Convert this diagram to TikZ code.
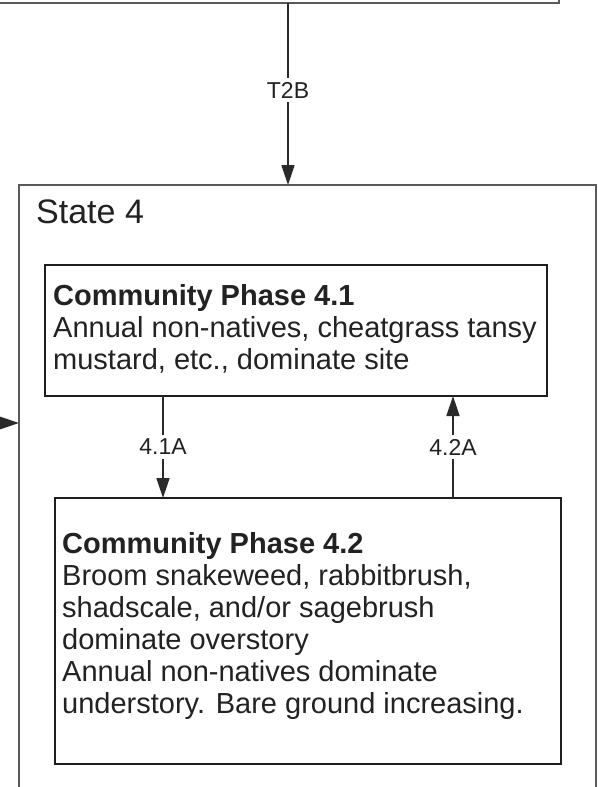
\documentclass[tikz,border=0pt]{standalone}
\usepackage{fontspec}
\setmainfont{Liberation Sans}
\usetikzlibrary{arrows.meta}
\definecolor{framegray}{HTML}{5A5A5A}
\definecolor{boxline}{HTML}{1E1E1E}
\definecolor{conncol}{HTML}{2A2A2A}
\definecolor{txtcol}{HTML}{222222}
\begin{document}
\begin{tikzpicture}[x=1pt,y=-1pt,
  outerbox/.style={draw=framegray,line width=2pt,outer sep=0pt,inner sep=0pt},
  phasebox/.style={draw=boxline,line width=2pt,outer sep=0pt,inner sep=0pt},
  phasetext/.style={anchor=base west,inner sep=0pt,align=left,text=txtcol,
    font=\fontsize{29}{32}\selectfont},
  conn/.style={draw=conncol,line width=1.5pt,-{Triangle[length=20pt,width=13pt]}},
  tlabel/.style={fill=white,text=txtcol,inner xsep=2pt,inner ysep=4pt,font=\fontsize{23}{25}\selectfont}]
\useasboundingbox (0,0) rectangle (597,787);
\clip (0,0) rectangle (597,787);
\fill[white] (0,0) rectangle (597,787);
% previous state box (partly visible)
\node[outerbox,anchor=south east,minimum width=700pt,minimum height=200pt] (s2) at (559,3) {};
% State 4 box (partly visible)
\node[outerbox,anchor=north west,minimum width=577pt,minimum height=700pt] (s4) at (19,185) {};
\node[anchor=base west,inner sep=0pt,text=txtcol,font=\fontsize{34}{40}\selectfont] (s4title) at (36,223) {State 4};
% community phases
\node[phasebox,anchor=north west,minimum width=502pt,minimum height=131pt] (p41) at (45,265) {};
\node[phasetext] (p41t) at (53,369)
  {\textbf{Community Phase 4.1}\\Annual non-natives, cheatgrass tansy\\mustard, etc., dominate site};
\node[phasebox,anchor=north west,minimum width=506pt,minimum height=266pt] (p42) at (55,498) {};
\node[phasetext] (p42t) at (62,713)
  {\textbf{Community Phase 4.2}\\Broom snakeweed, rabbitbrush,\\shadscale, and/or sagebrush\\dominate overstory\\Annual non-natives dominate\\understory. Bare ground increasing.};
% connector positions
\coordinate (xt2b) at (288,0);
\coordinate (x41a) at (163,0);
\coordinate (x42a) at (453,0);
\coordinate (lin) at (-5,423);
% connectors
\draw[conn] (s2.south -| xt2b) -- node[tlabel,pos=0.48] (lt2b) {T2B} (s4.north -| xt2b);
\draw[conn] (p41.south -| x41a) -- node[tlabel] (l41a) {4.1A} (p42.north -| x41a);
\draw[conn] (p42.north -| x42a) -- node[tlabel] (l42a) {4.2A} (p41.south -| x42a);
\draw[conn] (lin) -- (lin -| s4.west);
\end{tikzpicture}
\end{document}
